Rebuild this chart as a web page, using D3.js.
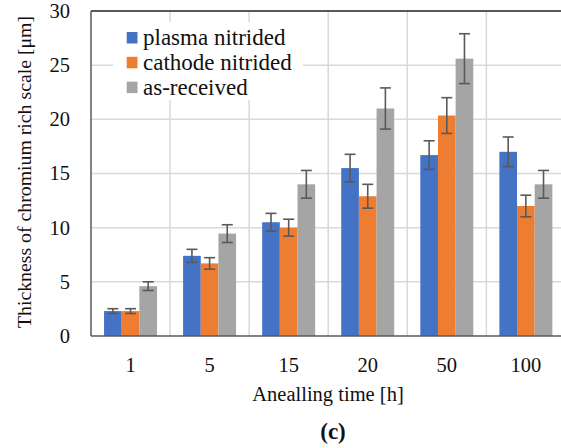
<!DOCTYPE html>
<html>
<head>
<meta charset="utf-8">
<script src="https://cdn.jsdelivr.net/npm/d3@7"></script>
<style>
  body { margin: 0; background: #fff; }
  svg { display: block; }
  svg text { font-family: "Liberation Serif", "Times New Roman", serif; }
</style>
</head>
<body>
<script>
// annealing times (categories)
var times = ["1", "5", "15", "20", "50", "100"];

// series names
var seriesNames = ["plasma nitrided", "cathode nitrided", "as-received"];

// mean thickness [um]
var plasma = [2.3, 7.4, 10.5, 15.5, 16.7, 17.0];
var cathode = [2.3, 6.7, 10.0, 12.9, 20.35, 12.0];
var asReceived = [4.6, 9.45, 14.0, 21.0, 25.6, 14.0];

// error bar half-widths
var plasmaErr = [0.22, 0.6, 0.82, 1.27, 1.32, 1.37];
var cathodeErr = [0.22, 0.53, 0.78, 1.1, 1.65, 1.0];
var asReceivedErr = [0.4, 0.82, 1.28, 1.9, 2.3, 1.28];

var yTicks = [0, 5, 10, 15, 20, 25, 30];

var colors = ["#4472C4", "#ED7D31", "#A5A5A5"];

var width = 561, height = 448;
var plotLeft = 91, plotTop = 11, plotBottom = 336, plotRight = 565.4;

var seriesValues = [plasma, cathode, asReceived];
var seriesErrs = [plasmaErr, cathodeErr, asReceivedErr];

var rows = [];
times.forEach(function(t, i) {
  seriesNames.forEach(function(s, j) {
    rows.push({ time: t, series: s, value: seriesValues[j][i], err: seriesErrs[j][i], color: colors[j] });
  });
});

var svg = d3.select("body").append("svg")
  .attr("width", width)
  .attr("height", height);

var x0 = d3.scaleBand().domain(times).range([plotLeft, plotRight]).paddingInner(0.33).paddingOuter(0.165);
var x1 = d3.scaleBand().domain(seriesNames).range([0, x0.bandwidth()]);
var y = d3.scaleLinear().domain([0, 30]).range([plotBottom, plotTop]);

// gridlines
svg.append("g").selectAll("line").data(yTicks.slice(1, -1)).enter().append("line")
  .attr("x1", plotLeft).attr("x2", width)
  .attr("y1", function(d) { return y(d); }).attr("y2", function(d) { return y(d); })
  .attr("stroke", "#d9d9d9").attr("stroke-width", 1.5);

svg.append("g").selectAll("line").data(d3.range(1, times.length)).enter().append("line")
  .attr("x1", function(d) { return plotLeft + d * x0.step(); })
  .attr("x2", function(d) { return plotLeft + d * x0.step(); })
  .attr("y1", plotTop).attr("y2", plotBottom)
  .attr("stroke", "#d9d9d9").attr("stroke-width", 1.5);

// top border
svg.append("line")
  .attr("x1", plotLeft).attr("x2", width).attr("y1", y(30)).attr("y2", y(30))
  .attr("stroke", "#222").attr("stroke-width", 1.5);

// legend background + entries
var legend = svg.append("g");
legend.append("rect")
  .attr("x", 113).attr("y", 22).attr("width", 190).attr("height", 78)
  .attr("fill", "#fff");
seriesNames.forEach(function(s, j) {
  legend.append("rect")
    .attr("x", 126.7).attr("y", 32 + j * 24.8).attr("width", 10.8).attr("height", 11.5)
    .attr("fill", colors[j]);
  legend.append("text")
    .attr("x", 143).attr("y", 45 + j * 24.8)
    .attr("font-size", 23).attr("fill", "#111")
    .text(s);
});

// bars
var groups = svg.append("g").selectAll("g").data(rows).enter().append("g")
  .attr("transform", function(d) { return "translate(" + x0(d.time) + ",0)"; });

groups.append("rect")
  .attr("x", function(d) { return x1(d.series); })
  .attr("y", function(d) { return y(d.value); })
  .attr("width", x1.bandwidth())
  .attr("height", function(d) { return y(0) - y(d.value); })
  .attr("fill", function(d) { return d.color; });

// error bars
var capW = 11;
groups.append("line")
  .attr("x1", function(d) { return x1(d.series) + x1.bandwidth() / 2; })
  .attr("x2", function(d) { return x1(d.series) + x1.bandwidth() / 2; })
  .attr("y1", function(d) { return y(d.value - d.err); })
  .attr("y2", function(d) { return y(d.value + d.err); })
  .attr("stroke", "#595959").attr("stroke-width", 1.6);
[-1, 1].forEach(function(sign) {
  groups.append("line")
    .attr("x1", function(d) { return x1(d.series) + x1.bandwidth() / 2 - capW / 2; })
    .attr("x2", function(d) { return x1(d.series) + x1.bandwidth() / 2 + capW / 2; })
    .attr("y1", function(d) { return y(d.value + sign * d.err); })
    .attr("y2", function(d) { return y(d.value + sign * d.err); })
    .attr("stroke", "#595959").attr("stroke-width", 1.6);
});

// axes lines
svg.append("line")
  .attr("x1", plotLeft).attr("x2", plotLeft).attr("y1", plotTop).attr("y2", plotBottom)
  .attr("stroke", "#595959").attr("stroke-width", 1.5);
svg.append("line")
  .attr("x1", plotLeft).attr("x2", width).attr("y1", plotBottom).attr("y2", plotBottom)
  .attr("stroke", "#595959").attr("stroke-width", 1.5);

// y tick labels
svg.append("g").selectAll("text").data(yTicks).enter().append("text")
  .attr("x", 70)
  .attr("y", function(d) { return y(d); })
  .attr("dy", "0.34em")
  .attr("text-anchor", "end")
  .attr("font-size", 20.5).attr("fill", "#111")
  .text(function(d) { return d; });

// x tick labels
svg.append("g").selectAll("text").data(times).enter().append("text")
  .attr("x", function(d) { return x0(d) + x0.bandwidth() / 2; })
  .attr("y", 372)
  .attr("text-anchor", "middle")
  .attr("font-size", 20.5).attr("fill", "#111")
  .text(function(d) { return d; });

// axis titles
svg.append("text")
  .attr("x", 328).attr("y", 401)
  .attr("text-anchor", "middle")
  .attr("font-size", 20.5).attr("fill", "#111")
  .text("Anealling time [h]");

svg.append("text")
  .attr("transform", "translate(31,172) rotate(-90)")
  .attr("text-anchor", "middle")
  .attr("font-size", 19.8).attr("fill", "#111")
  .text("Thickness of chromium rich scale [μm]");

svg.append("text")
  .attr("x", 333).attr("y", 439)
  .attr("text-anchor", "middle")
  .attr("font-size", 23).attr("font-weight", "bold").attr("fill", "#111")
  .text("(c)");
</script>
</body>
</html>
